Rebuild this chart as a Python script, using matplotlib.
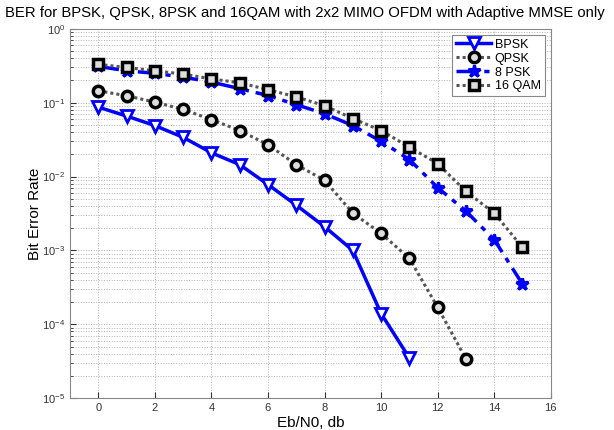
import numpy as np
import matplotlib
matplotlib.use('Agg')
from matplotlib import pyplot as plt

plt.rcParams['font.family'] = ['Liberation Sans', 'DejaVu Sans']
plt.rcParams['mathtext.fontset'] = 'custom'
plt.rcParams['mathtext.rm'] = 'Liberation Sans'

# Eb/N0 in dB
snr_bpsk = [0, 1, 2, 3, 4, 5, 6, 7, 8, 9, 10, 11]
ber_bpsk = [0.087, 0.066, 0.049, 0.034, 0.021, 0.0145, 0.0078, 0.0041, 0.0021,
            0.001, 0.00014, 0.000035]

snr_qpsk = [0, 1, 2, 3, 4, 5, 6, 7, 8, 9, 10, 11, 12, 13]
ber_qpsk = [0.145, 0.124, 0.102, 0.081, 0.059, 0.042, 0.027, 0.0145, 0.0089,
            0.0032, 0.0017, 0.00078, 0.00017, 0.000034]

snr_8psk = [0, 1, 2, 3, 4, 5, 6, 7, 8, 9, 10, 11, 12, 13, 14, 15]
ber_8psk = [0.31, 0.27, 0.25, 0.222, 0.19, 0.155, 0.125, 0.094, 0.071, 0.049,
            0.030, 0.017, 0.0071, 0.0034, 0.0014, 0.00035]

snr_16qam = [0, 1, 2, 3, 4, 5, 6, 7, 8, 9, 10, 11, 12, 13, 14, 15]
ber_16qam = [0.33, 0.30, 0.27, 0.244, 0.21, 0.186, 0.15, 0.12, 0.091, 0.061,
             0.042, 0.025, 0.015, 0.0063, 0.0032, 0.0011]

fig = plt.figure(figsize=(6.14, 4.3), dpi=100)
ax = fig.add_axes([0.114, 0.074, 0.783, 0.859])

ax.semilogy(snr_bpsk, ber_bpsk, color='#0000ff', ls='-', lw=2.5, marker='v',
            ms=8, mfc='white', mec='#0000ff', mew=2, label='BPSK', zorder=5)
ax.semilogy(snr_qpsk, ber_qpsk, color='#555555', ls=(0, (1, 1)), lw=2.2,
            marker='o', ms=7.5, mfc='#dddddd', mec='black', mew=2.5, label='QPSK', zorder=4)
ax.semilogy(snr_8psk, ber_8psk, color='#0000ff', ls=(0, (6, 2, 1.5, 2)), lw=2.5,
            marker='*', ms=9, mfc='#0000ff', mec='#0000ff', mew=2.2, label='8 PSK', zorder=3)
ax.semilogy(snr_16qam, ber_16qam, color='#555555', ls=(0, (1, 1)), lw=2.2,
            marker='s', ms=7, mfc='#dddddd', mec='black', mew=2.5, label='16 QAM', zorder=4)

ax.set_xlim(-1, 16)
ax.set_ylim(1e-5, 1e0)
ax.set_xticks(np.arange(0, 17, 2))
ax.tick_params(axis='both', which='both', direction='in', labelsize=8,
               colors='#333333', labelcolor='#333333')
ax.tick_params(axis='both', which='major', length=4)
ax.tick_params(axis='y', which='minor', length=2)
ax.grid(True, which='major', ls=':', color='#b0b0b0', lw=0.7)
ax.grid(True, which='minor', axis='y', ls=':', color='#b0b0b0', lw=0.7)
for sp in ax.spines.values():
    sp.set_color('#888888')

ax.set_xlabel('Eb/N0, db', fontsize=11, labelpad=2)
ax.set_ylabel('Bit Error Rate', fontsize=11, labelpad=0)
fig.text(5 / 614, 1 - 13 / 430,
         'BER for BPSK, QPSK, 8PSK and 16QAM with 2x2 MIMO OFDM with Adaptive MMSE only',
         fontsize=10.7, ha='left', va='center')

leg = ax.legend(loc='upper right', fontsize=9, fancybox=False, framealpha=1,
                edgecolor='#888888', handlelength=2.8, borderaxespad=0.5,
                labelspacing=0.15, borderpad=0.3, handletextpad=0.3)
leg.get_frame().set_linewidth(0.8)

plt.savefig('out.png', dpi=100)
